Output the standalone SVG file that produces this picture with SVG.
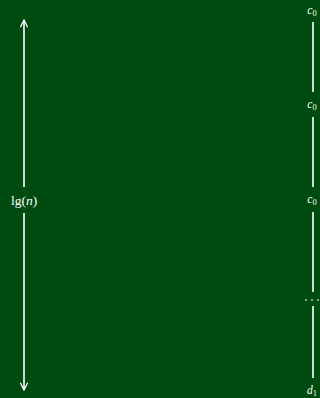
<svg xmlns="http://www.w3.org/2000/svg" width="320" height="398" viewBox="0 0 320 398">
<style>
.ln{stroke:#fff;stroke-width:1.6;fill:none}
.t{font-family:"Liberation Serif",serif;font-size:11.5px;fill:#fff;text-anchor:middle}
.i{font-style:italic}
.s{font-size:8.5px}
</style>
<defs>
<marker id="ah" viewBox="0 0 10 10" refX="9" refY="5" markerWidth="9" markerHeight="9" orient="auto-start-reverse" markerUnits="userSpaceOnUse">
<path d="M1,1 L9,5 L1,9" fill="none" stroke="#fff" stroke-width="1.4"/>
</marker>
</defs>
<rect width="320" height="398" fill="#004b0f"/>
<g id="connectors">
<line class="ln" x1="24" y1="187" x2="24" y2="20" marker-end="url(#ah)"/>
<line class="ln" x1="24" y1="213" x2="24" y2="390" marker-end="url(#ah)"/>
<line class="ln" x1="313" y1="22" x2="313" y2="92"/>
<line class="ln" x1="313" y1="117" x2="313" y2="187"/>
<line class="ln" x1="313" y1="212" x2="313" y2="292"/>
<line class="ln" x1="313" y1="306" x2="313" y2="378"/>
</g>
<g id="lg"><text class="t" x="24" y="205" style="font-size:13.5px">lg(<tspan class="i">n</tspan>)</text></g>
<g id="c0a"><text class="t" x="312" y="14"><tspan class="i">c</tspan><tspan class="s" dy="2">0</tspan></text></g>
<g id="c0b"><text class="t" x="312" y="108"><tspan class="i">c</tspan><tspan class="s" dy="2">0</tspan></text></g>
<g id="c0c"><text class="t" x="312" y="203"><tspan class="i">c</tspan><tspan class="s" dy="2">0</tspan></text></g>
<g id="dots"><circle cx="306" cy="300" r="0.9" fill="#ccc"/><circle cx="312" cy="300" r="0.9" fill="#ccc"/><circle cx="318" cy="300" r="0.9" fill="#ccc"/></g>
<g id="d1"><text class="t" x="312" y="394"><tspan class="i">d</tspan><tspan class="s" dy="2">1</tspan></text></g>
</svg>
